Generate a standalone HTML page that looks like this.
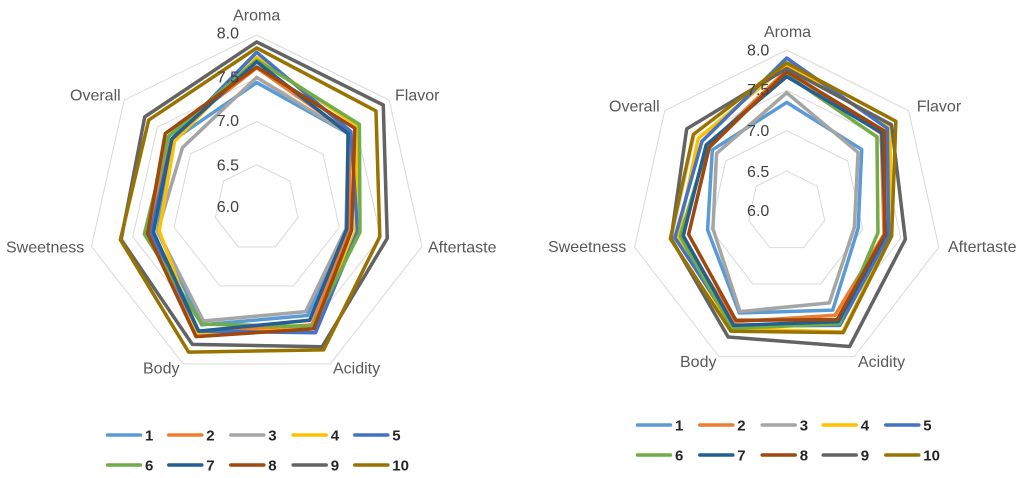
<!DOCTYPE html>
<html>
<head>
<meta charset="utf-8">
<style>
  html,body{margin:0;padding:0;background:#fff;}
  svg{display:block;}
  .ax{font-family:"Liberation Sans",sans-serif;font-size:16px;fill:#595959;}
  .tk{font-family:"Liberation Sans",sans-serif;font-size:16px;fill:#404040;}
  .lg{font-family:"Liberation Sans",sans-serif;font-size:15px;font-weight:bold;fill:#262626;}
</style>
</head>
<body>
<svg id="s" width="1032" height="478" viewBox="0 0 1032 478" xmlns="http://www.w3.org/2000/svg">
  <rect width="1032" height="478" fill="#fff"/>
  <g id="g1"></g>
  <g id="g2"></g>

  <!-- Chart 1 labels -->
  <text class="ax" x="256.7" y="20.5" text-anchor="middle">Aroma</text>
  <text class="ax" x="395" y="100.5">Flavor</text>
  <text class="ax" x="428" y="252.5">Aftertaste</text>
  <text class="ax" x="333" y="373.5">Acidity</text>
  <text class="ax" x="143" y="373.5">Body</text>
  <text class="ax" x="6" y="252.5">Sweetness</text>
  <text class="ax" x="70" y="100.5">Overall</text>
  <text class="tk" x="239" y="38.7" text-anchor="end">8.0</text>
  <text class="tk" x="239" y="82.7" text-anchor="end">7.5</text>
  <text class="tk" x="239" y="126.2" text-anchor="end">7.0</text>
  <text class="tk" x="239" y="170.5" text-anchor="end">6.5</text>
  <text class="tk" x="239" y="212.2" text-anchor="end">6.0</text>

  <!-- Chart 2 labels -->
  <text class="ax" x="787.5" y="37.2" text-anchor="middle">Aroma</text>
  <text class="ax" x="916.7" y="111.5">Flavor</text>
  <text class="ax" x="948" y="252.2">Aftertaste</text>
  <text class="ax" x="858" y="367.2">Acidity</text>
  <text class="ax" x="680" y="367.2">Body</text>
  <text class="ax" x="548" y="252.2">Sweetness</text>
  <text class="ax" x="609" y="111.5">Overall</text>
  <text class="tk" x="769.3" y="55.5" text-anchor="end">8.0</text>
  <text class="tk" x="769.3" y="94.8" text-anchor="end">7.5</text>
  <text class="tk" x="769.3" y="136.2" text-anchor="end">7.0</text>
  <text class="tk" x="769.3" y="177.2" text-anchor="end">6.5</text>
  <text class="tk" x="769.3" y="216.2" text-anchor="end">6.0</text>

  <!-- Legend 1 -->
  <g id="lg1"></g>
  <text class="lg" x="145" y="440.5">1</text>
  <text class="lg" x="206.3" y="440.5">2</text>
  <text class="lg" x="268.3" y="440.5">3</text>
  <text class="lg" x="330.7" y="440.5">4</text>
  <text class="lg" x="392.3" y="440.5">5</text>
  <text class="lg" x="145" y="470.5">6</text>
  <text class="lg" x="206.3" y="470.5">7</text>
  <text class="lg" x="268.3" y="470.5">8</text>
  <text class="lg" x="330.7" y="470.5">9</text>
  <text class="lg" x="392.3" y="470.5">10</text>

  <!-- Legend 2 -->
  <g id="lg2"></g>
  <text class="lg" x="675" y="430.5">1</text>
  <text class="lg" x="737.3" y="430.5">2</text>
  <text class="lg" x="799.7" y="430.5">3</text>
  <text class="lg" x="860.7" y="430.5">4</text>
  <text class="lg" x="923.3" y="430.5">5</text>
  <text class="lg" x="675" y="460.5">6</text>
  <text class="lg" x="737.3" y="460.5">7</text>
  <text class="lg" x="799.7" y="460.5">8</text>
  <text class="lg" x="860.7" y="460.5">9</text>
  <text class="lg" x="923.3" y="460.5">10</text>
</svg>
<script>
(function(){
  var NS="http://www.w3.org/2000/svg";
  var colors=["#5B9BD5","#ED7D31","#A5A5A5","#FFC000","#4472C4","#70AD47","#255E91","#9E480E","#636363","#997300"];
  var c1={cx:256.7,cy:208,rx:169.5,ry:173,g:"g1"};
  var c2={cx:786.7,cy:211.3,rx:156,ry:161.3,g:"g2"};
  var d1=[
    [7.45,7.38,7.09,7.38,7.50,7.20,7.26],
    [7.62,7.40,7.12,7.50,7.60,7.28,7.33],
    [7.51,7.38,7.08,7.33,7.45,7.20,7.12],
    [7.74,7.52,7.20,7.55,7.62,7.18,7.24],
    [7.80,7.42,7.22,7.60,7.58,7.28,7.28],
    [7.71,7.55,7.25,7.52,7.49,7.36,7.33],
    [7.69,7.38,7.09,7.44,7.58,7.25,7.28],
    [7.63,7.48,7.15,7.55,7.65,7.32,7.38],
    [7.92,7.91,7.58,7.78,7.75,7.64,7.69],
    [7.85,7.80,7.49,7.82,7.85,7.65,7.63]
  ];
  var d2=[
    [7.35,7.23,6.94,7.36,7.40,7.04,7.22],
    [7.75,7.55,7.28,7.43,7.52,7.40,7.30],
    [7.47,7.17,6.89,7.26,7.38,6.97,7.15],
    [7.81,7.70,7.36,7.66,7.62,7.43,7.45],
    [7.90,7.65,7.34,7.57,7.58,7.47,7.39],
    [7.69,7.48,7.20,7.55,7.61,7.40,7.30],
    [7.67,7.56,7.30,7.52,7.57,7.36,7.32],
    [7.73,7.60,7.29,7.49,7.50,7.29,7.27],
    [7.77,7.72,7.56,7.86,7.73,7.52,7.64],
    [7.84,7.79,7.38,7.67,7.65,7.53,7.53]
  ];
  function pts(c,vals){
    var a=[];
    for(var i=0;i<7;i++){
      var ang=i*2*Math.PI/7, r=(vals[i]-6)/2;
      a.push((c.cx+c.rx*r*Math.sin(ang)).toFixed(2)+","+(c.cy-c.ry*r*Math.cos(ang)).toFixed(2));
    }
    return a.join(" ");
  }
  function draw(c,data){
    var g=document.getElementById(c.g);
    [6.5,7,7.5,8].forEach(function(v){
      var p=document.createElementNS(NS,"polygon");
      p.setAttribute("points",pts(c,[v,v,v,v,v,v,v]));
      p.setAttribute("fill","none");
      p.setAttribute("stroke","#d9d9d9");
      p.setAttribute("stroke-width","1");
      g.appendChild(p);
    });
    data.forEach(function(row,k){
      var p=document.createElementNS(NS,"polygon");
      p.setAttribute("points",pts(c,row));
      p.setAttribute("fill","none");
      p.setAttribute("stroke",colors[k]);
      p.setAttribute("stroke-width","3.5");
      p.setAttribute("stroke-linejoin","round");
      g.appendChild(p);
    });
  }
  draw(c1,d1); draw(c2,d2);
  function legend(id,xs,ys){
    var g=document.getElementById(id);
    for(var k=0;k<10;k++){
      var x=xs[k%5], y=ys[Math.floor(k/5)];
      var l=document.createElementNS(NS,"line");
      l.setAttribute("x1",x+1.5);l.setAttribute("x2",x+34.5);
      l.setAttribute("y1",y);l.setAttribute("y2",y);
      l.setAttribute("stroke",colors[k]);
      l.setAttribute("stroke-width","3.5");
      l.setAttribute("stroke-linecap","round");
      g.appendChild(l);
    }
  }
  legend("lg1",[106,167.3,229.3,291.7,353.3],[435,465]);
  legend("lg2",[636,698.3,760.7,821.7,884.3],[425,455]);
})();
</script>
</body>
</html>
